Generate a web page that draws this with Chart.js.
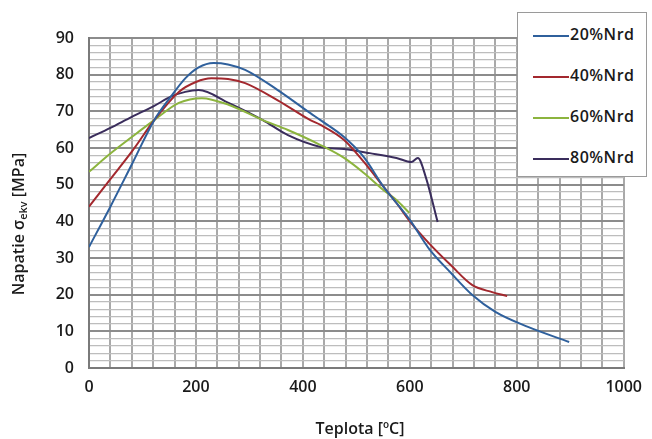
<!DOCTYPE html>
<html>
<head>
<meta charset="utf-8">
<script src="https://cdn.jsdelivr.net/npm/chart.js@4/dist/chart.umd.min.js"></script>
<style>
  html, body { margin: 0; padding: 0; background: #fff; }
  #wrap { position: relative; width: 652px; height: 439px; }
  #legend { position: absolute; left: 517px; top: 12px; width: 130px; height: 165px;
            border: 1px solid #9a9a9a; background: #fff; box-sizing: border-box;
            font: 600 16px 'Open Sans', sans-serif; color: #1a1a1a; letter-spacing: 0.5px; }
  #legend .row { position: absolute; left: 15px; height: 20px; line-height: 20px; white-space: nowrap; }
  #legend .sw { display: inline-block; width: 36px; height: 2px; vertical-align: middle; margin-right: 1px; }
</style>
</head>
<body>
<div id="wrap">
  <canvas id="chart" width="652" height="439"></canvas>
  <div id="legend"></div>
</div>
<script>
// series names and colours
const labels = ['20%Nrd', '40%Nrd', '60%Nrd', '80%Nrd'];
const colors = ['#2f609c', '#a3282e', '#8cb43e', '#3a2d5c'];

// Teplota [°C] / Napatie [MPa]
const temp20 = [0, 40, 80, 122, 153, 180, 205, 233, 260, 292, 353, 414, 433, 477, 514, 551, 575, 600, 636, 677, 717, 760, 821, 898];
const napatie20 = [33, 44, 55.5, 67.6, 74, 79, 82, 83.2, 82.8, 81.3, 75.8, 69.5, 67.6, 63, 57.5, 49.4, 45, 40.4, 32.5, 25.9, 19.9, 15.3, 11.2, 7.1];

const temp40 = [0, 40, 80, 122, 168, 200, 229, 260, 292, 353, 414, 433, 477, 514, 551, 575, 600, 636, 677, 717, 754, 782];
const napatie40 = [44, 51.5, 59, 67.6, 75.3, 78, 79, 78.8, 77.7, 73, 67.6, 66.3, 62.2, 56.2, 49.4, 45, 40, 34, 28, 22.6, 20.7, 19.6];

const temp60 = [0, 40, 80, 122, 168, 211, 261, 325, 372, 433, 477, 514, 551, 575, 599];
const napatie60 = [53.5, 58.5, 63, 67.6, 72.3, 73.6, 71.8, 67.6, 64.9, 60.8, 57.3, 53.2, 48.5, 45.8, 42.3];

const temp80 = [0, 40, 80, 122, 153, 180, 205, 261, 325, 372, 433, 477, 525, 575, 603, 615, 630, 652];
const napatie80 = [62.7, 65.5, 68.5, 71.5, 74, 75.3, 75.8, 72.3, 67.6, 63.5, 60.3, 59.7, 58.6, 57.3, 56.2, 57.3, 52, 39.8];

const xTitle = 'Teplota [ºC]';
const yTitle = ['Napatie σ', 'ekv', ' [MPa]'];

function pairs(xs, ys) {
  return xs.map((x, i) => ({ x: x, y: ys[i] }));
}

const series = [
  pairs(temp20, napatie20),
  pairs(temp40, napatie40),
  pairs(temp60, napatie60),
  pairs(temp80, napatie80)
];

// axis titles, the y one has a subscript
const titles = {
  id: 'titles',
  afterDraw(chart) {
    const c = chart.ctx;
    c.save();
    c.fillStyle = '#1a1a1a';
    c.textBaseline = 'middle';
    c.font = '600 16px "Open Sans", sans-serif';
    c.textAlign = 'center';
    c.fillText(xTitle, 360, 429);

    c.translate(19, 224);
    c.rotate(-Math.PI / 2);
    const big = '600 16px "Open Sans", sans-serif', small = '600 11px "Open Sans", sans-serif';
    c.font = big; const w0 = c.measureText(yTitle[0]).width, w2 = c.measureText(yTitle[2]).width;
    c.font = small; const w1 = c.measureText(yTitle[1]).width;
    let x = -(w0 + w1 + w2) / 2;
    c.textAlign = 'left';
    c.font = big; c.fillText(yTitle[0], x, 0); x += w0;
    c.font = small; c.fillText(yTitle[1], x, 5); x += w1;
    c.font = big; c.fillText(yTitle[2], x, 0);
    c.restore();
  }
};

new Chart(document.getElementById('chart'), {
  type: 'line',
  data: {
    datasets: series.map((d, i) => ({
      label: labels[i],
      data: d,
      borderColor: colors[i],
      backgroundColor: colors[i],
      borderWidth: 2,
      pointRadius: 0,
      cubicInterpolationMode: 'monotone',
      fill: false
    }))
  },
  options: {
    responsive: false,
    animation: false,
    layout: { padding: { left: 0, right: 22, top: 38, bottom: 0 } },
    plugins: { legend: { display: false }, tooltip: { enabled: false } },
    scales: {
      x: {
        type: 'linear', min: 0, max: 1000,
        afterFit(s) { s.height = 71; },
        ticks: {
          stepSize: 40, autoSkip: false, maxRotation: 0, padding: 10,
          color: '#1a1a1a', font: { family: 'Open Sans', size: 16, weight: '600' },
          callback: v => (v % 200 === 0 ? v : '')
        },
        grid: { color: '#a9a9a9', lineWidth: 2, drawTicks: false },
        border: { color: '#7a7a7a', width: 2 }
      },
      y: {
        min: 0, max: 90,
        afterFit(s) { s.width = 89; },
        ticks: {
          stepSize: 2, autoSkip: false, padding: 15,
          color: '#1a1a1a', font: { family: 'Open Sans', size: 16, weight: '600' },
          callback: v => (v % 10 === 0 ? v : '')
        },
        grid: {
          drawTicks: false,
          color: ctx => (ctx.tick && ctx.tick.value % 10 === 0 ? '#8c8c8c' : '#bdbdbd'),
          lineWidth: ctx => (ctx.tick && ctx.tick.value % 10 === 0 ? 2 : 1.3)
        },
        border: { color: '#7a7a7a', width: 2 }
      }
    }
  },
  plugins: [titles]
});

// legend box drawn over the plot, as in the source
const legend = document.getElementById('legend');
const rowTops = [11, 52, 93, 134];
labels.forEach((name, i) => {
  const row = document.createElement('div');
  row.className = 'row';
  row.style.top = rowTops[i] + 'px';
  row.innerHTML = '<span class="sw" style="background:' + colors[i] + '"></span>' + name;
  legend.appendChild(row);
});
</script>
</body>
</html>
